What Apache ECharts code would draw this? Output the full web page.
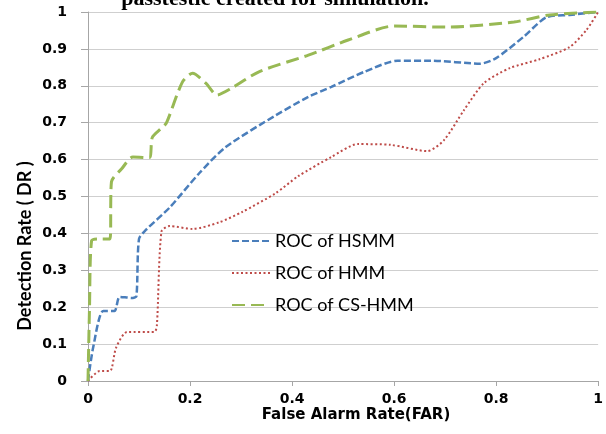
<!DOCTYPE html>
<html>
<head>
<meta charset="utf-8">
<script src="https://cdn.jsdelivr.net/npm/echarts@6/dist/echarts.min.js"></script>
<style>
html,body{margin:0;padding:0;background:#fff;}
#chart{width:606px;height:434px;}
</style>
</head>
<body>
<div id="chart"></div>
<script>
// ---- data ----
const seriesNames = ['ROC of HSMM', 'ROC of HMM', 'ROC of CS-HMM'];

const hsmmFar = [0, 0.01, 0.03, 0.052, 0.062, 0.088, 0.095, 0.1, 0.114, 0.16, 0.218, 0.27, 0.368, 0.432, 0.477, 0.542, 0.607, 0.672, 0.769, 0.80, 0.854, 0.899, 0.944, 1];
const hsmmDr  = [0, 0.09, 0.19, 0.19, 0.228, 0.225, 0.23, 0.385, 0.41, 0.47, 0.563, 0.634, 0.72, 0.77, 0.797, 0.838, 0.868, 0.868, 0.86, 0.875, 0.933, 0.986, 0.992, 1];

const hmmFar = [0, 0.023, 0.043, 0.055, 0.077, 0.13, 0.135, 0.144, 0.16, 0.205, 0.257, 0.302, 0.368, 0.412, 0.477, 0.529, 0.593, 0.665, 0.698, 0.737, 0.776, 0.827, 0.885, 0.944, 0.977, 1];
const hmmDr  = [0, 0.027, 0.027, 0.09, 0.133, 0.133, 0.15, 0.405, 0.42, 0.412, 0.43, 0.458, 0.509, 0.555, 0.607, 0.642, 0.64, 0.623, 0.653, 0.734, 0.807, 0.848, 0.872, 0.905, 0.951, 1];

const cshmmFar = [0, 0.003, 0.007, 0.02, 0.043, 0.046, 0.066, 0.088, 0.12, 0.126, 0.144, 0.154, 0.185, 0.205, 0.231, 0.253, 0.282, 0.335, 0.432, 0.51, 0.6, 0.704, 0.835, 0.905, 1];
const cshmmDr  = [0, 0.2, 0.38, 0.385, 0.385, 0.54, 0.575, 0.607, 0.605, 0.66, 0.685, 0.70, 0.81, 0.834, 0.807, 0.775, 0.794, 0.838, 0.883, 0.924, 0.962, 0.959, 0.973, 0.992, 1];

const titleText = 'passtestic created for simulation.';
const xAxisName = 'False Alarm Rate(FAR)';
const yAxisName = 'Detection Rate ( DR )';

function pairs(xs, ys) { return xs.map((x, i) => [x, ys[i]]); }

const chart = echarts.init(document.getElementById('chart'));
const labelFont = { fontFamily: 'DejaVu Sans', fontWeight: 'bold', fontSize: 14, color: '#000' };

chart.setOption({
  backgroundColor: '#fff',
  animation: false,
  grid: { left: 88, right: 4, top: 12, bottom: 53, containLabel: false },
  graphic: [
    { type: 'text', style: { text: titleText, x: 275, y: 10, align: 'center', verticalAlign: 'bottom',
      font: 'bold 22px "Liberation Serif"', fill: '#000' } },
    { type: 'text', style: { text: xAxisName, x: 356, y: 415, align: 'center', verticalAlign: 'middle',
      font: 'bold 15px "DejaVu Sans"', fill: '#000' } },
    { type: 'text', rotation: Math.PI / 2, x: 25, y: 246, style: { text: yAxisName, x: 0, y: 0, align: 'center', verticalAlign: 'middle',
      font: 'bold 18px Lato', fill: '#000' } }
  ],
  legend: {
    orient: 'vertical', left: 226, top: 227, itemGap: 14,
    itemWidth: 38, itemHeight: 10,
    itemStyle: { opacity: 0 },
    textStyle: { fontFamily: 'Lato', fontSize: 18, color: '#000' },
    data: seriesNames
  },
  xAxis: {
    type: 'value', min: 0, max: 1, interval: 0.2,
    axisLine: { show: true, lineStyle: { color: '#a6a6a6', width: 1 } },
    axisTick: { show: true, inside: false, length: 5, lineStyle: { color: '#a6a6a6' } },
    splitLine: { show: false },
    axisLabel: Object.assign({ margin: 11 }, labelFont)
  },
  yAxis: {
    type: 'value', min: 0, max: 1, interval: 0.1,
    axisLine: { show: true, lineStyle: { color: '#a6a6a6', width: 1 } },
    axisTick: { show: true, inside: false, length: 7, lineStyle: { color: '#a6a6a6' } },
    splitLine: { show: true, lineStyle: { color: '#cfcfcf', width: 1 } },
    axisLabel: Object.assign({ margin: 21 }, labelFont)
  },
  series: [
    { name: seriesNames[0], type: 'line', data: pairs(hsmmFar, hsmmDr), smooth: 0.25, symbol: 'none', z: 3,
      lineStyle: { color: '#4a7ebb', width: 2.5, type: [7, 3] }, itemStyle: { color: '#4a7ebb' } },
    { name: seriesNames[1], type: 'line', data: pairs(hmmFar, hmmDr), smooth: 0.25, symbol: 'none', z: 2,
      lineStyle: { color: '#be4b48', width: 2, type: [2, 2.5] }, itemStyle: { color: '#be4b48' } },
    { name: seriesNames[2], type: 'line', data: pairs(cshmmFar, cshmmDr), smooth: 0.25, symbol: 'none', z: 4,
      lineStyle: { color: '#98b954', width: 3, type: [13, 6] }, itemStyle: { color: '#98b954' } }
  ]
});
</script>
</body>
</html>
